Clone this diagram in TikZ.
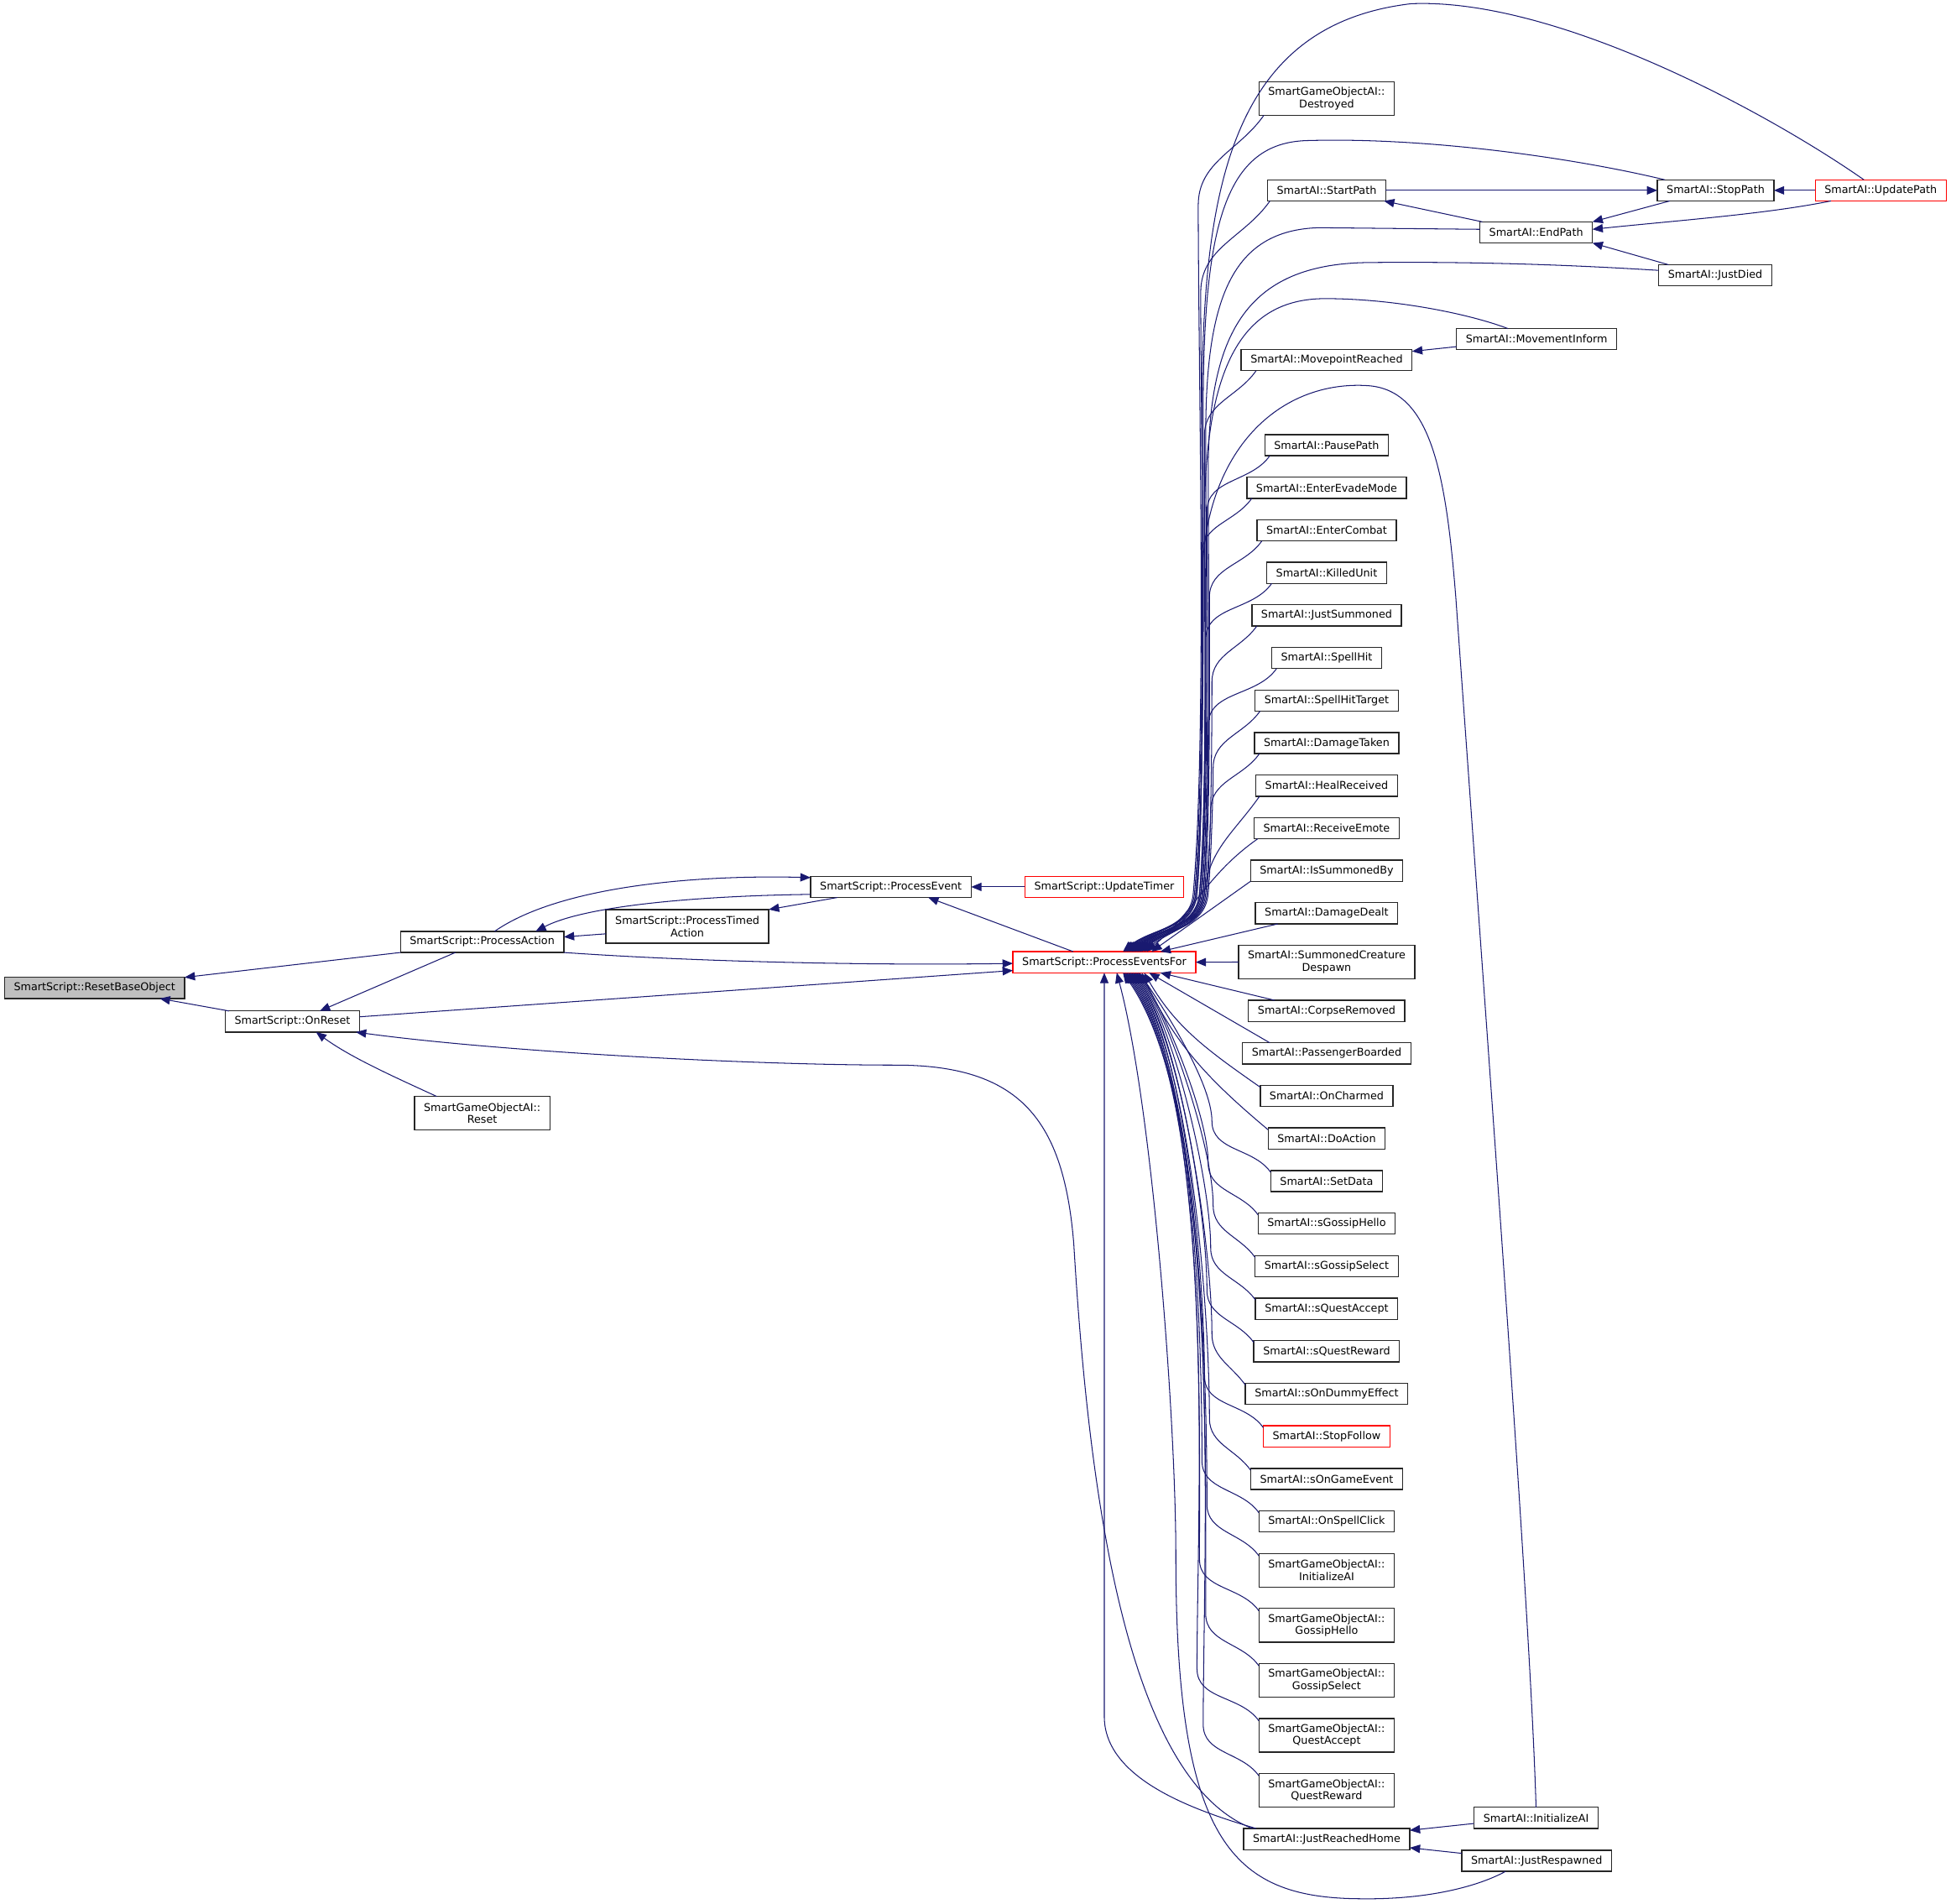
\documentclass[tikz,border=0pt]{standalone}
\usepackage{fontspec}
\newfontfamily\graphfont{DejaVu Sans}
\usepackage{tikz}
\usetikzlibrary{positioning, calc, arrows.meta}
\definecolor{edgeblue}{HTML}{191970}

\begin{document}
\begin{tikzpicture}[
x=1pt, y=-1pt,
node distance=17.2pt,
func/.style={rectangle, draw=black!85, fill=white, line width=0.9pt, minimum height=17pt, inner xsep=7.5pt, inner ysep=1pt, outer sep=0pt, align=center, font=\graphfont\fontsize{8.6}{9.9}\selectfont},
twoline/.style={minimum height=27pt},
root/.style={func, fill=black!25},
truncated/.style={func, draw=red},
arrow/.style={{Triangle[length=8.3pt, width=6.7pt]}-, draw=edgeblue, line width=0.7pt},
up0/.style={out=40, in=-95},
up1/.style={out=85, in=-90, looseness=0.6},
up2/.style={out=90, in=235},
dn1/.style={out=-55, in=90, looseness=0.6},
dn2/.style={out=-90, in=125}
]
\useasboundingbox (0,0) rectangle (1568,1530);

% Left part - reset chain
\node[root] (reset_base_object) at (76,794) {SmartScript::ResetBaseObject};
\node[func] (on_reset) at (235,821) {SmartScript::OnReset};
\node[func] (process_action) at (387.5,757) {SmartScript::ProcessAction};
\node[func, twoline] (go_reset) at (387.5,894.7) {SmartGameObjectAI::\\Reset};
\node[func, twoline] (process_timed) at (552.4,744.5) {SmartScript::ProcessTimed\\Action};
\node[func] (process_event) at (716,712.8) {SmartScript::ProcessEvent};
\node[truncated] (update_timer) at (887.5,712.8) {SmartScript::UpdateTimer};
\node[truncated] (events_for) at (887.5,773.3) {SmartScript::ProcessEventsFor};

% Top right - path handling
\node[func, twoline] (go_destroyed) at (1066.2,79.1) {SmartGameObjectAI::\\Destroyed};
\node[func] (start_path) at (1066.2,153) {SmartAI::StartPath};
\node[func] (stop_path) at (1378.8,153) {SmartAI::StopPath};
\node[truncated] (update_path) at (1511.5,153) {SmartAI::UpdatePath};
\node[func] (end_path) at (1234.6,186.8) {SmartAI::EndPath};
\node[func] (just_died) at (1378.5,221.3) {SmartAI::JustDied};
\node[func] (movement_inform) at (1235,272.6) {SmartAI::MovementInform};
\node[func] (movepoint_reached) at (1066.2,289.4) {SmartAI::MovepointReached};

% Column of event handlers
\node[func] (pause_path) at (1066.2,357.8) {SmartAI::PausePath};
\node[func, below=of pause_path] (enter_evade) {SmartAI::EnterEvadeMode};
\node[func, below=of enter_evade] (enter_combat) {SmartAI::EnterCombat};
\node[func, below=of enter_combat] (killed_unit) {SmartAI::KilledUnit};
\node[func, below=of killed_unit] (just_summoned) {SmartAI::JustSummoned};
\node[func, below=of just_summoned] (spell_hit) {SmartAI::SpellHit};
\node[func, below=of spell_hit] (spell_hit_target) {SmartAI::SpellHitTarget};
\node[func, below=of spell_hit_target] (damage_taken) {SmartAI::DamageTaken};
\node[func, below=of damage_taken] (heal_received) {SmartAI::HealReceived};
\node[func, below=of heal_received] (receive_emote) {SmartAI::ReceiveEmote};
\node[func, below=of receive_emote] (summoned_by) {SmartAI::IsSummonedBy};
\node[func, below=of summoned_by] (damage_dealt) {SmartAI::DamageDealt};
\node[func, twoline, below=of damage_dealt] (creature_despawn) {SmartAI::SummonedCreature\\Despawn};
\node[func, below=of creature_despawn] (corpse_removed) {SmartAI::CorpseRemoved};
\node[func, below=of corpse_removed] (passenger_boarded) {SmartAI::PassengerBoarded};
\node[func, below=of passenger_boarded] (on_charmed) {SmartAI::OnCharmed};
\node[func, below=of on_charmed] (do_action) {SmartAI::DoAction};
\node[func, below=of do_action] (set_data) {SmartAI::SetData};
\node[func, below=of set_data] (s_gossip_hello) {SmartAI::sGossipHello};
\node[func, below=of s_gossip_hello] (s_gossip_select) {SmartAI::sGossipSelect};
\node[func, below=of s_gossip_select] (s_quest_accept) {SmartAI::sQuestAccept};
\node[func, below=of s_quest_accept] (s_quest_reward) {SmartAI::sQuestReward};
\node[func, below=of s_quest_reward] (s_dummy_effect) {SmartAI::sOnDummyEffect};
\node[truncated, below=of s_dummy_effect] (stop_follow) {SmartAI::StopFollow};
\node[func, below=of stop_follow] (s_game_event) {SmartAI::sOnGameEvent};
\node[func, below=of s_game_event] (spell_click) {SmartAI::OnSpellClick};
\node[func, twoline, below=of spell_click] (go_initialize) {SmartGameObjectAI::\\InitializeAI};
\node[func, twoline, below=of go_initialize] (go_gossip_hello) {SmartGameObjectAI::\\GossipHello};
\node[func, twoline, below=of go_gossip_hello] (go_gossip_select) {SmartGameObjectAI::\\GossipSelect};
\node[func, twoline, below=of go_gossip_select] (go_quest_accept) {SmartGameObjectAI::\\QuestAccept};
\node[func, twoline, below=of go_quest_accept] (go_quest_reward) {SmartGameObjectAI::\\QuestReward};
\node[func, below=of go_quest_reward] (reached_home) {SmartAI::JustReachedHome};

% Bottom right
\node[func] (initialize_ai) at (1234.5,1461) {SmartAI::InitializeAI};
\node[func] (just_respawned) at (1235,1495.5) {SmartAI::JustRespawned};

% Left calls
\draw[arrow] (reset_base_object.north east) -- (process_action.south west);
\draw[arrow] ([xshift=-20pt]reset_base_object.south east) -- ([xshift=3pt]on_reset.north west);
\draw[arrow] ([xshift=22pt]on_reset.north) -- ([xshift=-21.5pt]process_action.south);
\draw[arrow] ([xshift=19pt]on_reset.south) .. controls (282,850) and (318,866) .. ([xshift=-36.5pt]go_reset.north);
\draw[arrow] ([xshift=-3pt]on_reset.south east) .. controls (400,845) and (600,856) .. (720,856) .. controls (820,856) and (855,900) .. (863,1000) .. controls (875,1200) and (905,1430) .. ([xshift=7pt]reached_home.north west);
\draw[arrow] ([yshift=-6.7pt]events_for.west) -- ([yshift=3.8pt]on_reset.east);
\draw[arrow] ([yshift=-1pt]events_for.west) .. controls (700,776) and (560,773) .. (process_action.south east);
\draw[arrow] ([yshift=-1pt]process_event.north west) .. controls (560,703) and (450,712) .. ([xshift=10pt]process_action.north);
\draw[arrow] ([xshift=43pt]process_action.north) .. controls (470,728) and (560,720) .. ([yshift=-6pt]process_event.west);
\draw[arrow] ([yshift=4pt]process_action.east) -- ([yshift=-6pt]process_timed.west);
\draw[arrow] (process_timed.north east) -- ([xshift=-43pt]process_event.south);
\draw[arrow] (process_event.east) -- (update_timer.west);
\draw[arrow] ([xshift=30pt]process_event.south) -- ([xshift=-25pt]events_for.north);

% Path calls
\draw[arrow] (stop_path.west) -- (start_path.east);
\draw[arrow] (stop_path.east) -- (update_path.west);
\draw[arrow] ([xshift=-1.5pt]start_path.south east) -- ([xshift=2pt]end_path.north west);
\draw[arrow] (end_path.north east) -- ([xshift=10pt]stop_path.south west);
\draw[arrow] ([yshift=2.5pt]end_path.east) .. controls (1350,177) and (1420,172) .. ([xshift=-40pt]update_path.south);
\draw[arrow] (end_path.south east) -- ([xshift=8pt]just_died.north west);
\draw[arrow] ([yshift=7pt]movepoint_reached.east) -- ([yshift=-6pt]movement_inform.west);
\draw[arrow] ([yshift=7pt]reached_home.east) -- ([yshift=-4.5pt]initialize_ai.west);
\draw[arrow] ([yshift=-7pt]reached_home.east) -- ([yshift=6pt]just_respawned.west);
\draw[arrow] (events_for.east) -- (creature_despawn.west);

% Fan into ProcessEventsFor - from above
\draw[arrow] ([xshift=15pt]events_for.north) to[up0] (960,718) to[up1] (966,330) .. controls (966,150) and (990,20) .. (1134,3) .. controls (1250,-2) and (1420,90) .. ([xshift=-13.5pt]update_path.north);
\draw[arrow] ([xshift=16pt]events_for.north) to[up0] (961,718) to[up1] (967,330) .. controls (967,180) and (985,115) .. (1050,113) .. controls (1150,110) and (1270,128) .. ([xshift=6pt]stop_path.north west);
\draw[arrow] ([xshift=17pt]events_for.north) to[up0] (959,718) to[up1] (963,165) to[up2] ([xshift=4pt]go_destroyed.south west);
\draw[arrow] ([xshift=18pt]events_for.north) to[up0] (961,718) to[up1] (965,235) to[up2] ([xshift=2pt]start_path.south west);
\draw[arrow] ([xshift=19pt]events_for.north) to[up0] (965,718) to[up1] (969,350) .. controls (969,240) and (990,185) .. (1060,183) -- ([yshift=2.5pt]end_path.west);
\draw[arrow] ([xshift=20pt]events_for.north) to[up0] (967,718) to[up1] (971,380) .. controls (971,270) and (1000,212) .. (1100,211) .. controls (1200,210) and (1280,214) .. ([yshift=4pt]just_died.west);
\draw[arrow] ([xshift=21pt]events_for.north) to[up0] (964,718) to[up1] (968,420) .. controls (968,300) and (995,240) .. (1065,240) .. controls (1120,240) and (1180,252) .. ([xshift=-23pt]movement_inform.north);
\draw[arrow] ([xshift=22pt]events_for.north) to[up0] (962,718) to[up1] (966,470) .. controls (966,360) and (1030,305) .. (1100,310) .. controls (1150,314) and (1162,380) .. (1170,480) .. controls (1200,900) and (1230,1300) .. (initialize_ai.north);
\draw[arrow] ([xshift=22pt]events_for.north) to[up0] (964,718) to[up1] (968,350) to[up2] ([xshift=12pt]movepoint_reached.south west);
\draw[arrow] ([xshift=23pt]events_for.north) to[up0] (966,718) to[up1] (970,411) to[up2] ([xshift=4pt]pause_path.south west);
\draw[arrow] ([xshift=24pt]events_for.north) to[up0] (962,718) to[up1] (966,445) to[up2] ([xshift=4pt]enter_evade.south west);
\draw[arrow] ([xshift=25pt]events_for.north) to[up0] (968,718) to[up1] (972,480) to[up2] ([xshift=4pt]enter_combat.south west);
\draw[arrow] ([xshift=26pt]events_for.north) to[up0] (965,718) to[up1] (969,514) to[up2] ([xshift=4pt]killed_unit.south west);
\draw[arrow] ([xshift=27pt]events_for.north) to[up0] (970,718) to[up1] (974,548) to[up2] ([xshift=4pt]just_summoned.south west);
\draw[arrow] ([xshift=28pt]events_for.north) to[up0] (967,718) to[up1] (971,583) to[up2] ([xshift=4pt]spell_hit.south west);
\draw[arrow] ([xshift=29pt]events_for.north) to[up0] (971,718) to[up1] (975,617) to[up2] ([xshift=4pt]spell_hit_target.south west);
\draw[arrow] ([xshift=30pt]events_for.north) to[up0] (969,718) to[up1] (973,651) to[up2] ([xshift=4pt]damage_taken.south west);
\draw[arrow] ([xshift=32pt]events_for.north) to[up0] (968,718) to[out=85, in=235] ([xshift=3pt]heal_received.south west);
\draw[arrow] ([xshift=34pt]events_for.north) to[out=40, in=215] ([xshift=3pt]receive_emote.south west);
\draw[arrow] ([xshift=38pt]events_for.north) -- (summoned_by.south west);
\draw[arrow] ([xshift=45pt]events_for.north) -- ([xshift=18pt]damage_dealt.south west);

% Fan into ProcessEventsFor - from below
\draw[arrow] ([xshift=45pt]events_for.south) -- ([xshift=21pt]corpse_removed.north west);
\draw[arrow] ([xshift=36pt]events_for.south) -- ([xshift=22pt]passenger_boarded.north west);
\draw[arrow] ([xshift=32pt]events_for.south) to[out=-60, in=145] ([yshift=-1.5pt]on_charmed.north west);
\draw[arrow] ([xshift=30pt]events_for.south) to[out=-65, in=140] ([yshift=-1.5pt]do_action.north west);
\draw[arrow] ([xshift=28pt]events_for.south) to[dn1] (974,901) to[dn2] ([yshift=-1.5pt]set_data.north west);
\draw[arrow] ([xshift=27pt]events_for.south) to[dn1] (971,935) to[dn2] ([yshift=-1.5pt]s_gossip_hello.north west);
\draw[arrow] ([xshift=26pt]events_for.south) to[dn1] (975,969) to[dn2] ([yshift=-1.5pt]s_gossip_select.north west);
\draw[arrow] ([xshift=25pt]events_for.south) to[dn1] (973,1003) to[dn2] ([yshift=-1.5pt]s_quest_accept.north west);
\draw[arrow] ([xshift=24pt]events_for.south) to[dn1] (970,1037) to[dn2] ([yshift=-1.5pt]s_quest_reward.north west);
\draw[arrow] ([xshift=23pt]events_for.south) to[dn1] (974,1072) to[dn2] ([yshift=-1.5pt]s_dummy_effect.north west);
\draw[arrow] ([xshift=22pt]events_for.south) to[dn1] (968,1106) to[dn2] ([yshift=-1.5pt]stop_follow.north west);
\draw[arrow] ([xshift=21pt]events_for.south) to[dn1] (972,1140) to[dn2] ([yshift=-1.5pt]s_game_event.north west);
\draw[arrow] ([xshift=20pt]events_for.south) to[dn1] (966,1174) to[dn2] ([yshift=-1.5pt]spell_click.north west);
\draw[arrow] ([xshift=19pt]events_for.south) to[dn1] (970,1209) to[dn2] ([yshift=-2pt]go_initialize.north west);
\draw[arrow] ([xshift=18pt]events_for.south) to[dn1] (964,1253) to[dn2] ([yshift=-2pt]go_gossip_hello.north west);
\draw[arrow] ([xshift=17pt]events_for.south) to[dn1] (969,1297) to[dn2] ([yshift=-2pt]go_gossip_select.north west);
\draw[arrow] ([xshift=16pt]events_for.south) to[dn1] (962,1341) to[dn2] ([yshift=-2pt]go_quest_accept.north west);
\draw[arrow] ([xshift=15pt]events_for.south) to[dn1] (967,1386) to[dn2] ([yshift=-2pt]go_quest_reward.north west);
\draw[arrow] (events_for.south) -- (887.5,1380) .. controls (888,1430) and (960,1455) .. ([xshift=10pt]reached_home.north west);
\draw[arrow] ([xshift=10pt]events_for.south) to[out=-75, in=90, looseness=0.6] (945,1250) .. controls (945,1480) and (990,1525) .. (1092,1526) .. controls (1150,1527) and (1190,1515) .. ([xshift=-25pt]just_respawned.south);

\end{tikzpicture}
\end{document}
